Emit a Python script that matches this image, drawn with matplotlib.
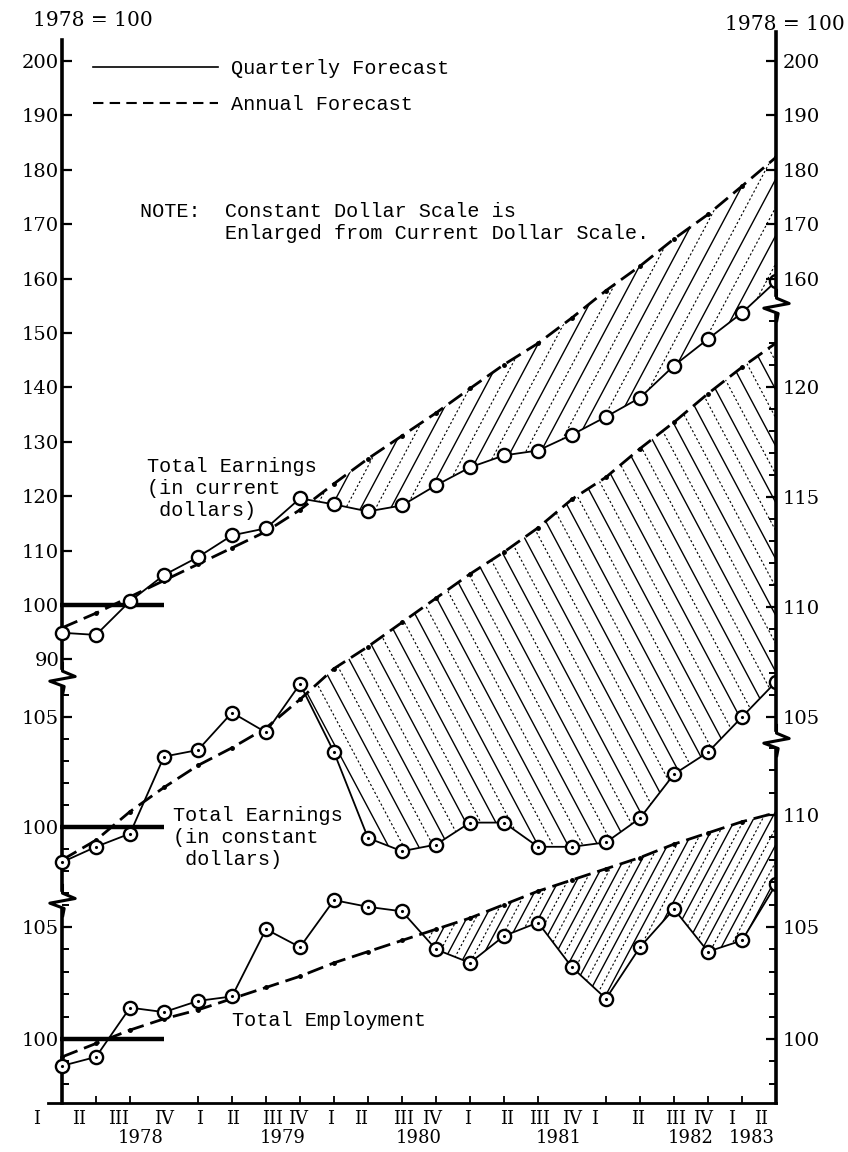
import matplotlib
matplotlib.use("Agg")
import matplotlib.pyplot as plt
import numpy as np
from matplotlib.lines import Line2D
from matplotlib.path import Path
from matplotlib.collections import LineCollection

# values, 1978 = 100, one per quarter 1978 I .. 1983 II
quarter_labels = ["I", "II", "III", "IV"] * 5 + ["I", "II"]
year_labels = ["1978", "1979", "1980", "1981", "1982", "1983"]

cur_quarterly = [94.9, 94.5, 100.7, 105.5, 108.8, 112.8, 114.1, 119.6, 118.5, 117.2, 118.3,
                 122.0, 125.3, 127.5, 128.4, 131.3, 134.6, 138.1, 144.0, 148.9, 153.7, 159.5]
cur_annual = [95.8, 98.5, 101.5, 104.5, 107.5, 110.5, 113.5, 117.5, 122.3, 126.9, 131.1,
              135.3, 139.8, 144.2, 148.1, 152.8, 157.8, 162.3, 167.3, 171.8, 177.0, 182.3]
con_quarterly = [98.4, 99.1, 99.7, 103.2, 103.5, 105.2, 104.3, 106.5, 103.4, 99.5, 98.9,
                 99.2, 100.2, 100.2, 99.1, 99.1, 99.3, 100.4, 102.4, 103.4, 105.0, 106.6]
con_annual = [98.5, 99.4, 100.7, 101.8, 102.8, 103.6, 104.5, 105.8, 107.2, 108.2, 109.3,
              110.4, 111.5, 112.5, 113.6, 114.9, 115.9, 117.2, 118.4, 119.7, 120.9, 122.0]
emp_quarterly = [98.8, 99.2, 101.4, 101.2, 101.7, 101.9, 104.9, 104.1, 106.2, 105.9, 105.7,
                 104.0, 103.4, 104.6, 105.2, 103.2, 101.8, 104.1, 105.8, 103.9, 104.4, 106.9]
emp_annual = [99.2, 99.8, 100.4, 100.9, 101.3, 101.8, 102.3, 102.8, 103.4, 103.9, 104.4,
              104.9, 105.4, 106.0, 106.6, 107.1, 107.6, 108.1, 108.7, 109.2, 109.7, 110.1]

x = np.arange(len(quarter_labels))

# typed labels along the bottom are not evenly spaced
qlabel_pos = [-0.76, 0.5, 1.65, 3.0, 4.06, 5.03, 6.18, 6.94, 7.91, 8.79, 10.06, 10.88,
              11.94, 13.09, 14.06, 15.0, 15.65, 16.94, 18.06, 18.85, 19.68, 20.56]
year_pos = [2.3, 6.5, 10.5, 14.6, 18.5, 20.3]

W, H = 848, 1152
L, T, R, B = 30, 30, 776, 1103          # plot box, pixels from top-left
X0 = 62                                  # pixel of the first quarter
MONO = "Liberation Mono"
plt.rcParams["font.family"] = "DejaVu Serif"

fig = plt.figure(figsize=(W / 100, H / 100), dpi=100)
rect = [L / W, 1 - B / H, (R - L) / W, (B - T) / H]
xlim = (-(X0 - L) / ((R - X0) / 21), 21)


def limits(v1, p1, v2, p2):
    k = (v1 - v2) / (p2 - p1)
    return v2 - (B - p2) * k, v2 + (p2 - T) * k


def val(lim, py):
    lo, hi = lim
    return hi - (py - T) * (hi - lo) / (B - T)


panels = [
    dict(q=cur_quarterly, a=cur_annual, lim=limits(200, 61, 100, 605),
         lmaj=list(range(90, 201, 10)), lmin=[], lspine=(40, 668),
         rmaj=[160, 170, 180, 190, 200], rmin=[], rspine=(32, 295),
         hatch="/", step=15, start=7, dots=False,
         label="Total Earnings\n(in current\n dollars)", lab_xy=(147, 457)),
    dict(q=con_quarterly, a=con_annual, lim=limits(105, 717, 100, 827),
         lmaj=[100, 105], lmin=list(range(97, 107)), lspine=(688, 890),
         rmaj=[105, 110, 115, 120], rmin=list(range(105, 124)), rspine=(315, 730),
         hatch="\\", step=15, start=7, dots=True,
         label="Total Earnings\n(in constant\n dollars)", lab_xy=(173, 806)),
    dict(q=emp_quarterly, a=emp_annual, lim=limits(105, 927, 100, 1039),
         lmaj=[100, 105], lmin=list(range(98, 107)), lspine=(910, 1103),
         rmaj=[100, 105, 110], rmin=list(range(98, 114)), rspine=(750, 1103),
         hatch="/", step=9, start=10, dots=True,
         label="Total Employment", lab_xy=(232, 1011)),
]


def hatch_lines(ax, region, direction, step, angle=62):
    wpx, hpx = ax.bbox.width, ax.bbox.height
    dx = hpx / np.tan(np.radians(angle))
    starts = np.arange(-dx - step, wpx + step, step)
    solid, dotted = [], []
    for k, x0 in enumerate(starts):
        if direction == "/":
            seg = [(x0 / wpx, 0), ((x0 + dx) / wpx, 1)]
        else:
            seg = [(x0 / wpx, 1), ((x0 + dx) / wpx, 0)]
        (solid if k % 2 == 0 else dotted).append(seg)
    clip = Path.make_compound_path(*region.get_paths())
    for segs, ls, lw in [(solid, "-", 1.0), (dotted, (0, (2, 2)), 0.8)]:
        lc = LineCollection(segs, colors="k", linewidths=lw, linestyles=ls,
                            transform=ax.transAxes, zorder=1)
        lc.set_clip_path(clip, ax.transData)
        ax.add_collection(lc)


zig = Path([(0, 0.5), (0, 0.22), (0.38, 0.06), (-0.38, -0.08), (0.05, -0.24), (0, -0.5)],
           [Path.MOVETO] + [Path.LINETO] * 5)

axes = []
for i, p in enumerate(panels):
    ax = fig.add_axes(rect, facecolor="none")
    axr = ax.twinx()
    for a_ in (ax, axr):
        a_.set_xlim(*xlim)
        a_.set_ylim(*p["lim"])
        for s in a_.spines.values():
            s.set_visible(False)
    lo_l = val(p["lim"], p["lspine"][1]); hi_l = val(p["lim"], p["lspine"][0])
    lo_r = val(p["lim"], p["rspine"][1]); hi_r = val(p["lim"], p["rspine"][0])

    ax.spines["left"].set_visible(True)
    ax.spines["left"].set_position(("data", 0))
    ax.spines["left"].set_bounds(lo_l, hi_l)
    ax.spines["left"].set_linewidth(2.6)
    ax.set_yticks(p["lmaj"])
    ax.set_yticks(p["lmin"], minor=True)
    ax.tick_params(axis="y", which="both", direction="in", labelsize=14, pad=2)
    ax.tick_params(axis="y", which="major", length=7, width=1.6)
    ax.tick_params(axis="y", which="minor", length=5, width=1.4)

    axr.spines["right"].set_visible(True)
    axr.spines["right"].set_bounds(lo_r, hi_r)
    axr.spines["right"].set_linewidth(2.6)
    axr.set_yticks(p["rmaj"])
    axr.set_yticks(p["rmin"], minor=True)
    axr.tick_params(axis="y", which="both", direction="in", labelsize=14, pad=5)
    axr.tick_params(axis="y", which="major", length=7, width=1.6)
    axr.tick_params(axis="y", which="minor", length=5, width=1.4)

    q = np.array(p["q"]); a = np.array(p["a"])
    region = ax.fill_between(x, q, a, where=(a > q) & (x >= p["start"]), interpolate=True,
                             facecolor="none", edgecolor="none")
    hatch_lines(ax, region, p["hatch"], p["step"])

    ax.hlines(100, -0.05, 3.0, colors="k", linewidth=3.2, zorder=2)
    ax.plot(x, a, color="k", linewidth=2.0, linestyle=(0, (6, 2.5)),
            marker=".", markersize=5, zorder=3)
    ax.plot(x, q, color="k", linewidth=1.3, marker="o", markersize=9.5,
            markerfacecolor="white", markeredgewidth=1.7, zorder=4)
    if p["dots"]:
        ax.plot(x, q, linestyle="none", marker=".", markersize=2.5, color="k", zorder=5)

    fig.text(p["lab_xy"][0] / W, 1 - p["lab_xy"][1] / H, p["label"], family=MONO,
             fontsize=14.5, va="top", ha="left", linespacing=1.2)

    if i < 2:
        ax.tick_params(axis="x", bottom=False, labelbottom=False)
    axes.append((ax, axr))

# scale breaks on both vertical axes
ax_top = axes[0][0]
lim0 = panels[0]["lim"]
for xb, py in [(0, 678), (0, 900), (21, 305), (21, 740)]:
    ax_top.plot([xb], [val(lim0, py)], marker=zig, markersize=24, color="k",
                fillstyle="none", markeredgewidth=2.2, clip_on=False, zorder=6)

# bottom time axis
ax_bot = axes[2][0]
ax_bot.spines["bottom"].set_visible(True)
ax_bot.spines["bottom"].set_linewidth(2.0)
ax_bot.spines["bottom"].set_bounds(-0.4, 21)
ax_bot.set_xticks(qlabel_pos, quarter_labels)
ax_bot.set_xticks(x, minor=True)
ax_bot.set_xlim(*xlim)
ax_bot.tick_params(axis="x", which="major", length=0, pad=5, labelsize=13)
ax_bot.tick_params(axis="x", which="minor", direction="in", length=5, width=1.3)
for yr, xp in zip(year_labels, year_pos):
    ax_bot.text(xp, -0.033, yr, transform=ax_bot.get_xaxis_transform(),
                ha="center", va="center", fontsize=13)

# legend and notes
handles = [Line2D([], [], color="k", linewidth=1.2),
           Line2D([], [], color="k", linewidth=1.5, linestyle=(0, (5, 3)))]
fig.legend(handles, ["Quarterly Forecast", "Annual Forecast"], loc="upper left",
           bbox_to_anchor=(93 / W, 1 - 59 / H), frameon=False, borderpad=0,
           borderaxespad=0, handlelength=6.2, handletextpad=0.65, labelspacing=0.85,
           prop={"family": MONO, "size": 14.5})

fig.text(140 / W, 1 - 202 / H,
         "NOTE:  Constant Dollar Scale is\n       Enlarged from Current Dollar Scale.",
         family=MONO, fontsize=14.5, va="top", ha="left", linespacing=1.2)
fig.text(33 / W, 1 - 20 / H, "1978 = 100", fontsize=14.5, va="center", ha="left")
fig.text(725 / W, 1 - 25 / H, "1978 = 100", fontsize=14.5, va="center", ha="left")

fig.savefig("out.png", dpi=100)
